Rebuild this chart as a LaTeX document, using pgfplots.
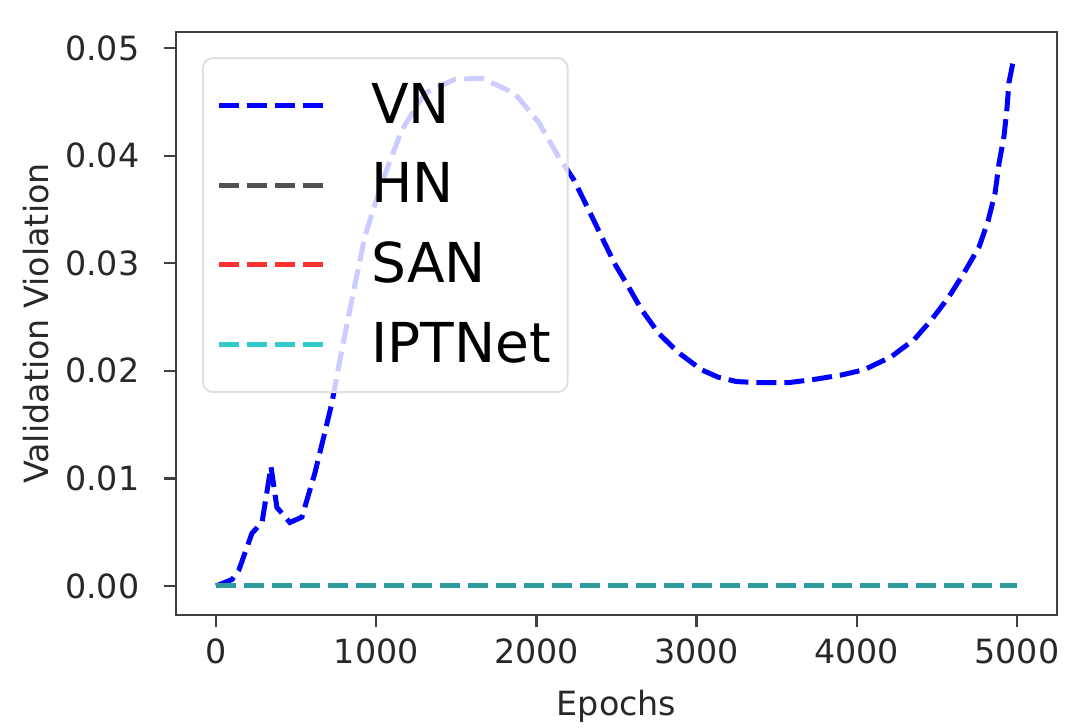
\documentclass[border=0pt]{standalone}
\usepackage{fontspec}
\setmainfont{DejaVu Sans}
\usepackage{pgfplots}
\pgfplotsset{compat=1.18}
\definecolor{vnblue}{RGB}{0,0,255}
\definecolor{hngray}{RGB}{40,40,40}
\definecolor{sanred}{RGB}{255,0,0}
\definecolor{iptcyan}{RGB}{0,191,191}
\definecolor{txt}{RGB}{40,40,40}

\begin{document}
\begin{tikzpicture}
\begin{axis}[
  scale only axis,
  width=264.3pt, height=174.9pt,
  xmin=-250, xmax=5250,
  ymin=-0.0027, ymax=0.0515,
  xtick={0,1000,2000,3000,4000,5000},
  ytick={0,0.01,0.02,0.03,0.04,0.05},
  scaled y ticks=false,
  yticklabel style={/pgf/number format/.cd, fixed, fixed zerofill, precision=2},
  xticklabel style={/pgf/number format/1000 sep={}},
  /pgf/number format/assume math mode=true,
  tick label style={font=\fontsize{10}{12}\selectfont, text=txt},
  label style={font=\fontsize{10}{12}\selectfont, text=txt},
  yticklabel shift=4pt,
  xticklabel shift=0pt,
  xlabel={Epochs},
  ylabel={Validation Violation},
  ylabel shift=-2pt,
  xlabel shift=1pt,
  tick align=outside,
  tick pos=left,
  major tick length=3.5pt,
  axis line style={draw=black!75, line width=0.8pt},
  every tick/.style={black!75, line width=0.7pt},
  legend cell align=left,
  legend image code/.code={\draw[#1] (0pt,0pt) -- (32pt,0pt);},
  legend style={
    at={(0.0295,0.957)}, anchor=north west,
    fill=white, fill opacity=0.8, text opacity=1, draw opacity=1,
    draw=black!12, rounded corners=3pt, line width=0.6pt,
    font=\fontsize{16.5}{19}\selectfont,
    inner xsep=4pt, inner ysep=6.5pt,
    row sep=8.3pt,
    nodes={inner sep=1pt},
    /tikz/every even column/.append style={column sep=0pt},
  },
  /tikz/every odd column/.append style={column sep=12pt},
]
\addplot[vnblue, line width=1.5pt, dash pattern=on 6pt off 2.4pt] coordinates {
(0,0) (100,0.0006) (143,0.0015) (224,0.0049) (287,0.0059) (343,0.0111)
(380,0.0073) (461,0.0059) (536,0.0064) (617,0.0105) (673,0.0139) (723,0.0170)
(786,0.0220) (860,0.0275) (929,0.0325) (1035,0.0375) (1160,0.0424) (1303,0.0458)
(1490,0.0471) (1658,0.0472) (1864,0.0458) (2014,0.0431) (2138,0.0399) (2232,0.0378)
(2325,0.0350) (2406,0.0325) (2487,0.0300) (2575,0.0278) (2656,0.0257) (2762,0.0235)
(2886,0.0217) (3030,0.0201) (3136,0.0194) (3250,0.0190) (3385,0.0189) (3572,0.0189)
(3734,0.0192) (3900,0.0196) (4046,0.0201) (4214,0.0213) (4358,0.0229) (4464,0.0247)
(4576,0.0269) (4669,0.0291) (4763,0.0315) (4819,0.0339) (4863,0.0365) (4888,0.0393)
(4919,0.0418) (4937,0.0443) (4950,0.0468) (4981,0.0491)
};
\addlegendentry{VN}
\addplot[hngray, opacity=0.8, line width=1.5pt, dash pattern=on 6pt off 2.4pt] coordinates {(0,0) (5000,0)};
\addlegendentry{HN}
\addplot[sanred, opacity=0.8, line width=1.5pt, dash pattern=on 6pt off 2.4pt] coordinates {(0,0) (5000,0)};
\addlegendentry{SAN}
\addplot[iptcyan, opacity=0.8, line width=1.5pt, dash pattern=on 6pt off 2.4pt] coordinates {(0,0) (5000,0)};
\addlegendentry{IPTNet}
\end{axis}
\pgfresetboundingbox
\path[use as bounding box] ([shift={(-52.8pt,-33.9pt)}]current axis.south west) rectangle ([shift={(5.7pt,9.6pt)}]current axis.north east);
\end{tikzpicture}
\end{document}
